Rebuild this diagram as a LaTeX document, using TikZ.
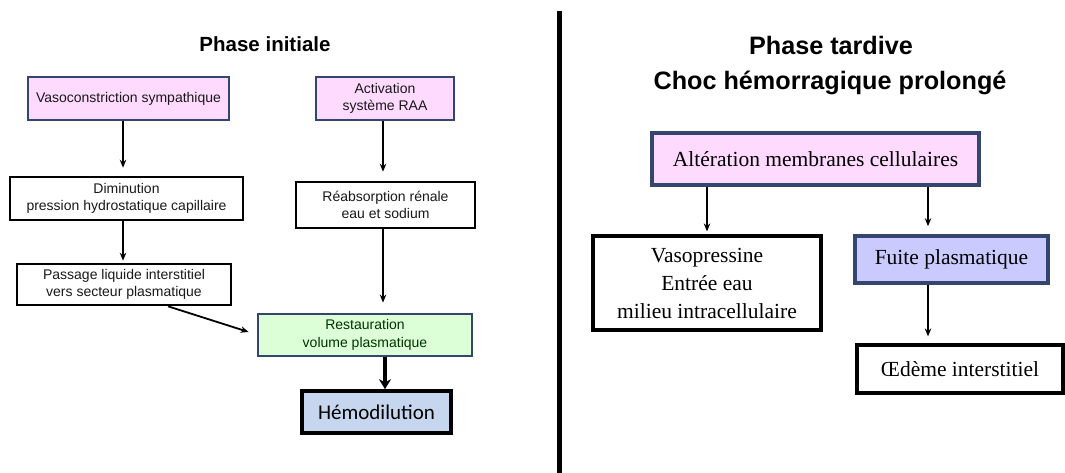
\documentclass[tikz,border=0pt]{standalone}
\usepackage{fontspec}
\setmainfont{Liberation Sans}
\newfontfamily\serifrm{Liberation Serif}
\newfontfamily\calib{Carlito}
\usetikzlibrary{arrows.meta}
\definecolor{pinkbox}{HTML}{FFDAFF}
\definecolor{greenbox}{HTML}{DDFFD8}
\definecolor{bluebox}{HTML}{C6D6EE}
\definecolor{lavbox}{HTML}{CACAFF}
\definecolor{navy}{HTML}{34466E}
\tikzset{
  sbox/.style={rectangle, draw=black, line width=2.6pt, inner sep=2pt, align=center,
    font=\fontsize{14}{17.5}\selectfont, text=black!90},
  pinkb/.style={sbox, fill=pinkbox, draw=navy, line width=2.8pt},
  rbox/.style={rectangle, draw=black, line width=3.2pt, inner sep=2pt, align=center,
    font=\serifrm\fontsize{21.5}{28}\selectfont},
  arr/.style={-{Stealth[length=8pt,width=6.5pt]}, line width=1.8pt},
  thickarr/.style={-{Stealth[length=10pt,width=12pt]}, line width=4.5pt},
  ttl/.style={font=\bfseries\fontsize{20.5}{24}\selectfont},
  ttlb/.style={font=\bfseries\fontsize{25.2}{30}\selectfont},
}
\begin{document}
\begin{tikzpicture}[x=1pt,y=-1pt]
\useasboundingbox (0,0) rectangle (1065,473);
\fill[white] (0,0) rectangle (1065,473);
% divider
\draw[line width=5pt] (559,11) -- (559,473);
% titles
\node[ttl] (t1) at (265,44) {Phase initiale};
\node[ttlb] (t2) at (831,45) {Phase tardive};
\node[ttlb] (t3) at (830,83) {Choc hémorragique prolongé};
% left nodes
\node[pinkb, minimum width=201pt, minimum height=43pt] (vaso) at (128.5,98.5) {Vasoconstriction sympathique};
\node[pinkb, minimum width=138pt, minimum height=43pt] (raa) at (385,98.5) {Activation\\système RAA};
\node[sbox, minimum width=233pt, minimum height=43pt] (dim) at (126.5,198.5) {Diminution\\pression hydrostatique capillaire};
\node[sbox, minimum width=179pt, minimum height=46pt] (reab) at (385.5,205) {Réabsorption rénale\\eau et sodium};
\node[sbox, minimum width=214pt, minimum height=41pt] (pass) at (124,284.5) {Passage liquide interstitiel\\vers secteur plasmatique};
\node[sbox, fill=greenbox, draw=navy, line width=2.8pt, minimum width=214pt, minimum height=42pt, text=green!20!black] (rest) at (365,335) {Restauration\\volume plasmatique};
\node[rectangle, draw=black, line width=3.6pt, fill=bluebox, minimum width=149pt, minimum height=42pt,
  font=\calib\fontsize{21}{24}\selectfont] (hemo) at (376.5,412) {Hémodilution};
% left arrows
\draw[arr, shorten >=8pt] ([xshift=-5.5pt]vaso.south) -- ([xshift=-5.5pt]vaso.south |- dim.north);
\draw[arr, shorten >=9pt] ([xshift=-2pt]raa.south) -- ([xshift=-2pt]raa.south |- reab.north);
\draw[arr, shorten >=2pt] ([xshift=-3.5pt]dim.south) -- ([xshift=-3.5pt]dim.south |- pass.north);
\draw[arr, shorten >=10pt] ([xshift=-2.5pt]reab.south) -- ([xshift=-2.5pt]reab.south |- rest.north);
\draw[arr] ([xshift=44pt]pass.south) -- ([xshift=-8pt,yshift=3pt]rest.west);
\draw[thickarr] ([xshift=20pt]rest.south) -- ([xshift=20pt]rest.south |- hemo.north);
% right nodes
\node[rbox, fill=pinkbox, draw=navy, line width=3.4pt, minimum width=327pt, minimum height=52pt] (alt) at (815.5,159) {Altération membranes cellulaires};
\node[rbox, minimum width=228pt, minimum height=94pt] (vp) at (707,283) {Vasopressine\\Entrée eau\\milieu intracellulaire};
\node[rbox, fill=lavbox, draw=navy, line width=3.6pt, minimum width=193pt, minimum height=47pt] (fuite) at (951.5,259.5) {Fuite plasmatique};
\node[rbox, minimum width=206pt, minimum height=48pt] (oed) at (960,369) {Œdème interstitiel};
% right arrows
\draw[arr, shorten >=3pt] (alt.south -| vp.north) -- (vp.north);
\draw[arr, shorten >=8pt] ([xshift=-23.5pt]fuite.north |- alt.south) -- ([xshift=-23.5pt]fuite.north);
\draw[arr, shorten >=7pt] ([xshift=-23.5pt]fuite.south) -- ([xshift=-23.5pt]fuite.south |- oed.north);
\end{tikzpicture}
\end{document}
